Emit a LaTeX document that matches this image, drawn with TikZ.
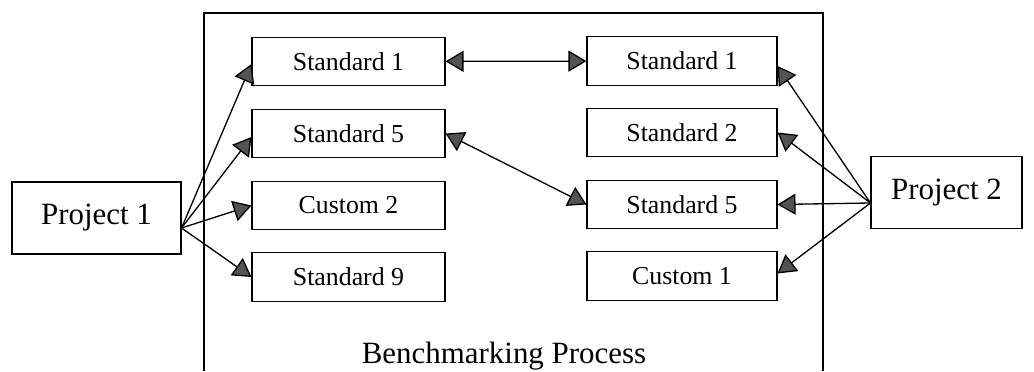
\documentclass[tikz,border=0pt]{standalone}
\usepackage{fontspec}
\setmainfont{Liberation Serif}
\usetikzlibrary{arrows.meta}

\begin{document}
\begin{tikzpicture}[
	box/.style={draw, line width=0.6pt, minimum height=0.97cm, inner sep=0pt, font=\fontsize{14.7}{17}\selectfont},
	proj/.style={draw, line width=0.6pt, minimum height=1.44cm, inner sep=0pt, font=\fontsize{17.6}{20}\selectfont},
	arr/.style={line width=0.75pt, -{Triangle[length=0.36cm, width=0.42cm, fill=gray!65!black]}},
	biarr/.style={line width=0.75pt, {Triangle[length=0.36cm, width=0.42cm, fill=gray!65!black]}-{Triangle[length=0.36cm, width=0.42cm, fill=gray!65!black]}}]
	\useasboundingbox (0,0) rectangle (20.68,7.42);

	% frame of the process, open at the bottom
	\draw[line width=0.6pt] (4.08,0) -- (4.08,7.16) -- (16.46,7.16) -- (16.46,0);
	\node (bp) at (10.08,0.3) [font=\fontsize{17.6}{20}\selectfont]{Benchmarking Process};

	\node (p1) at (1.93,3.06) [proj, minimum width=3.38cm]{Project 1};
	\node (p2) at (18.93,3.57) [proj, minimum width=3.02cm]{Project 2};
	\coordinate (p1o) at ([yshift=-0.2cm]p1.east);
	\coordinate (p2o) at ([yshift=-0.21cm]p2.west);

	\node (a1) at (6.97,6.19) [box, minimum width=3.86cm]{Standard 1};
	\node (a2) at (6.97,4.75) [box, minimum width=3.86cm]{Standard 5};
	\node (a3) at (6.97,3.31) [box, minimum width=3.86cm]{Custom 2};
	\node (a4) at (6.97,1.88) [box, minimum width=3.86cm]{Standard 9};

	\node (b1) at (13.64,6.20) [box, minimum width=3.80cm]{Standard 1};
	\node (b2) at (13.64,4.77) [box, minimum width=3.80cm]{Standard 2};
	\node (b3) at (13.64,3.33) [box, minimum width=3.80cm]{Standard 5};
	\node (b4) at (13.64,1.90) [box, minimum width=3.80cm]{Custom 1};

	\draw[arr] (p1o) -- ([yshift=-0.05cm]a1.west);
	\draw[arr] (p1o) -- ([yshift=-0.07cm]a2.west);
	\draw[arr] (p1o) -- (a3.west);
	\draw[arr] (p1o) -- (a4.west);

	\draw[arr] (p2o) -- ([yshift=-0.1cm]b1.east);
	\draw[arr] (p2o) -- (b2.east);
	\draw[arr] (p2o) -- (b3.east);
	\draw[arr] (p2o) -- ([yshift=0.05cm]b4.east);

	\draw[biarr] (a1) -- (b1);
	\draw[biarr] (a2.east) -- (b3.west);
\end{tikzpicture}
\end{document}
